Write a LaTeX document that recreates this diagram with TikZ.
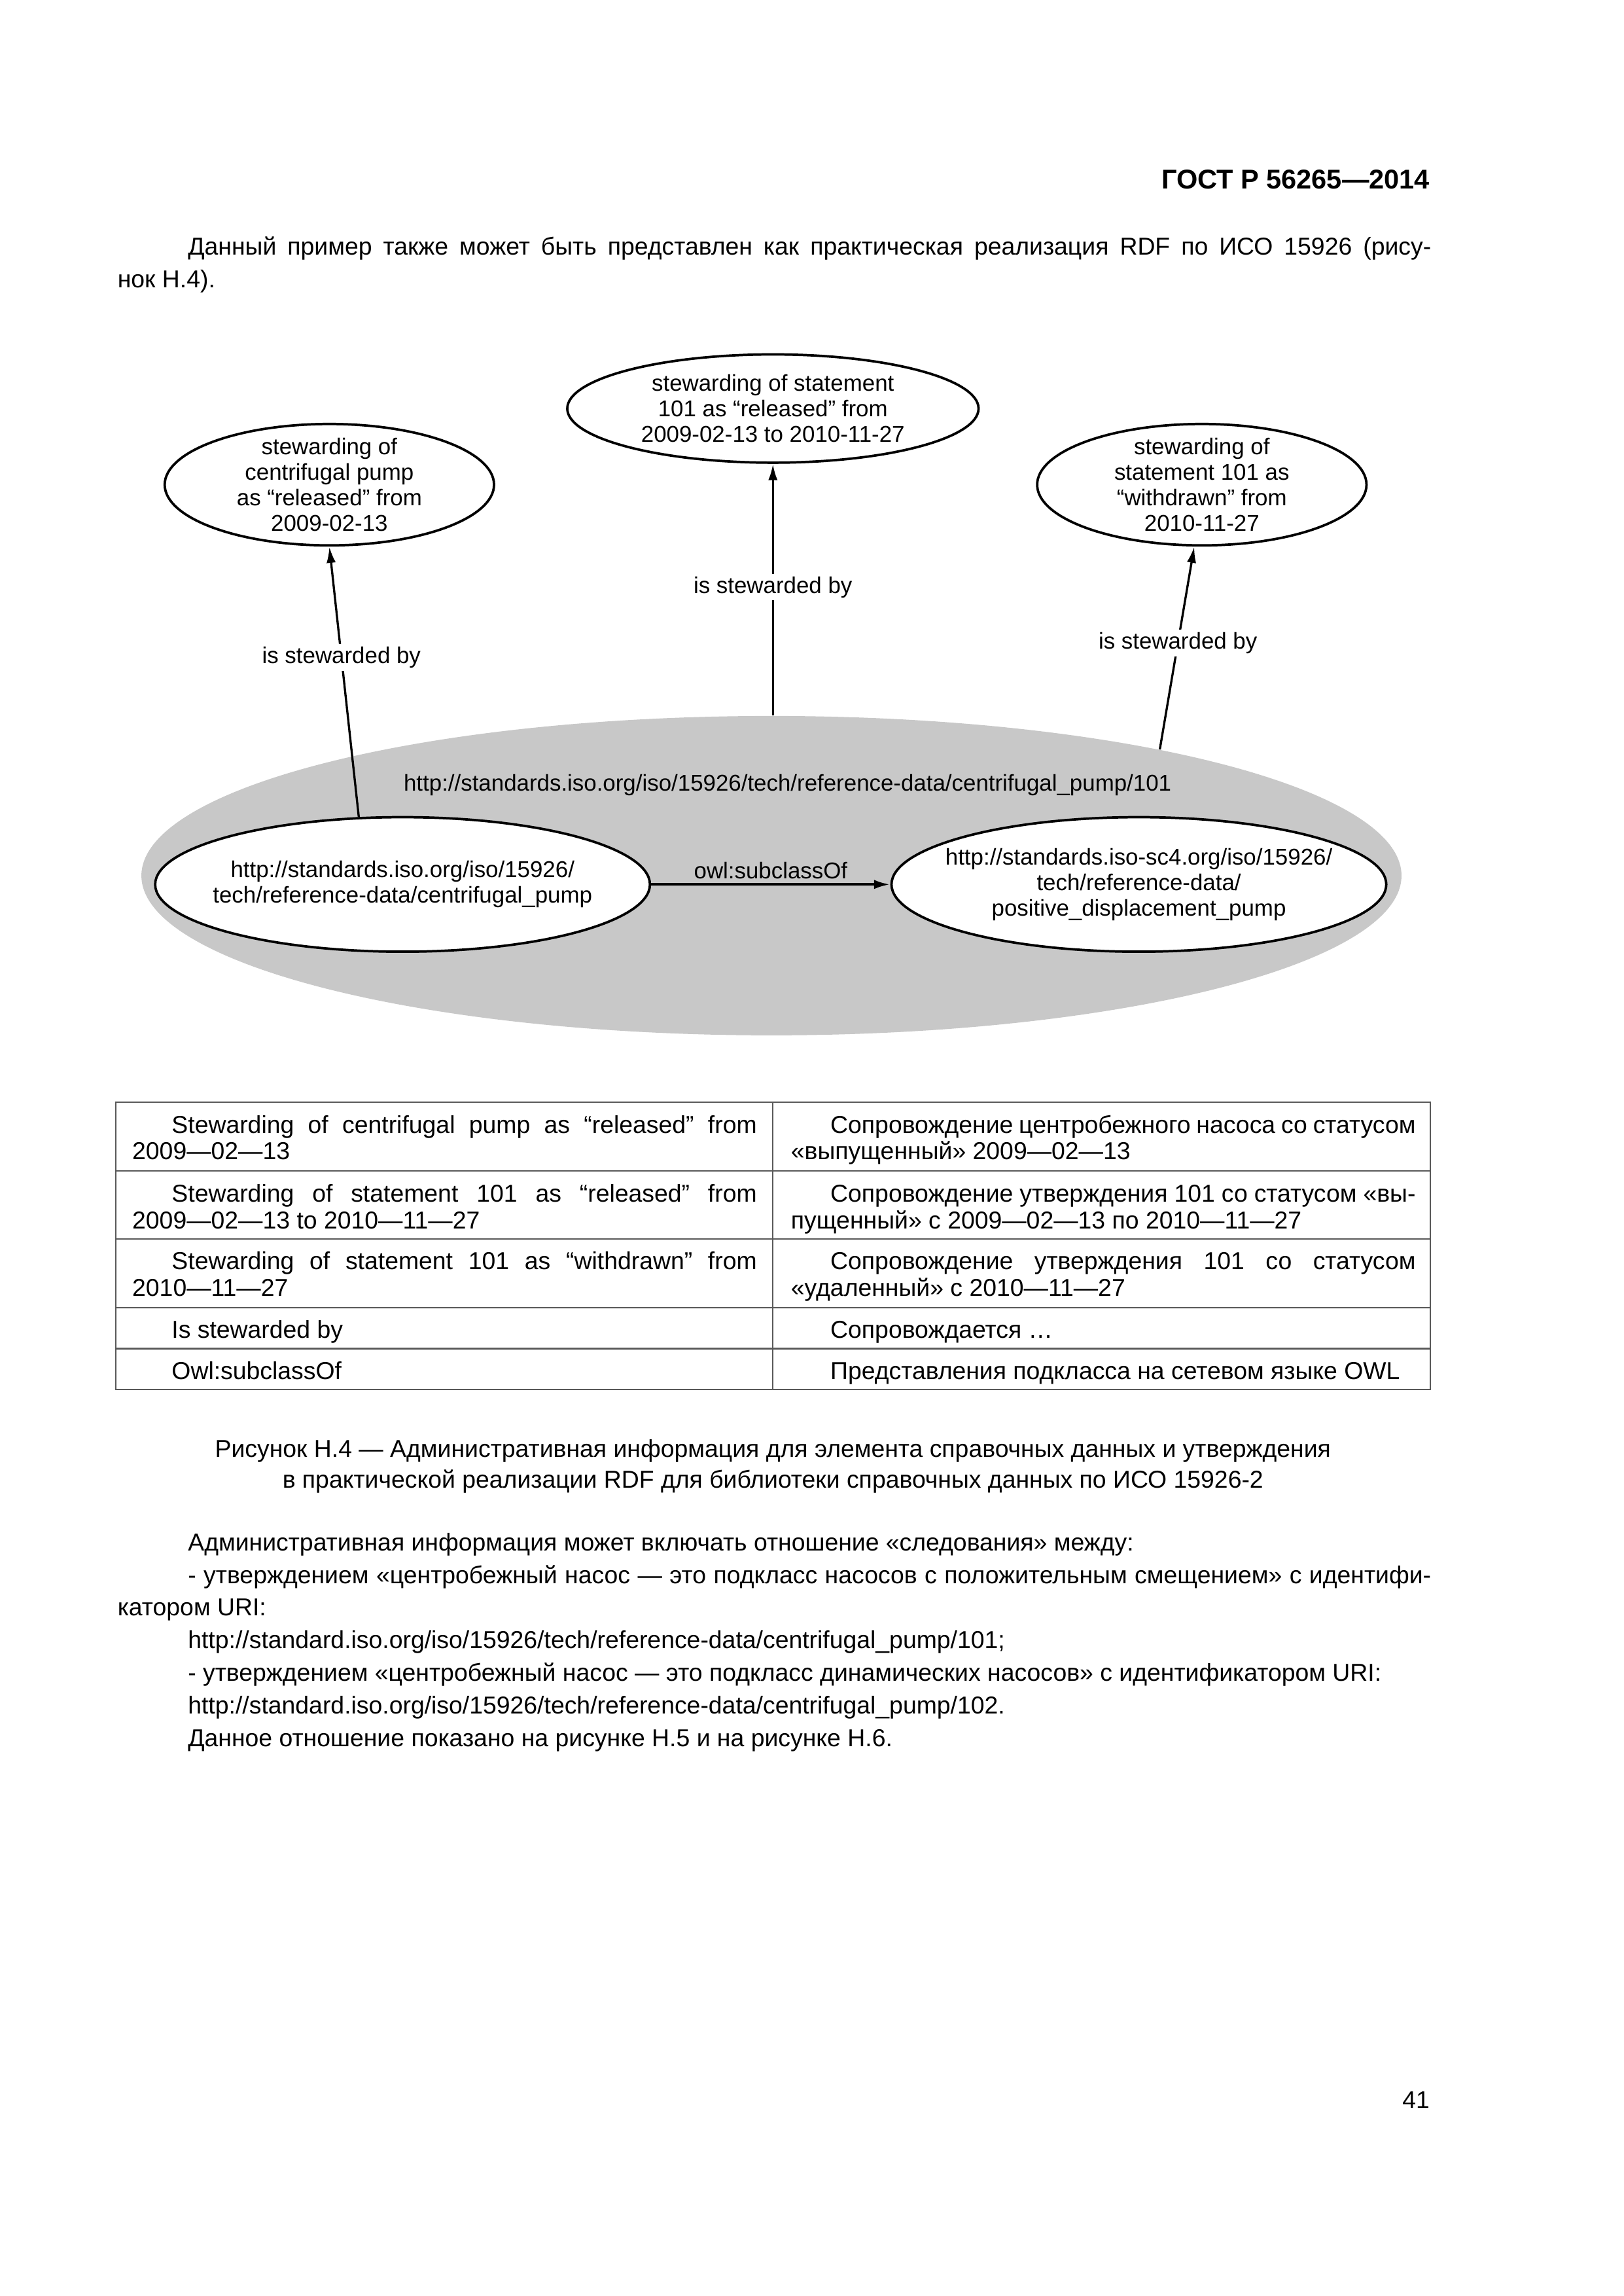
\documentclass[tikz,border=0pt]{standalone}
\usepackage{fontspec}
\setmainfont{Liberation Sans}
\usetikzlibrary{positioning, shapes.geometric, arrows.meta}
\definecolor{uriGrey}{RGB}{200,200,200}
\hyphenpenalty=10000

\begin{document}
\begin{tikzpicture}[
    x=0.18936mm, y=-0.18936mm,
    >={Latex[length=2.1mm, width=1.2mm]},
    font=\fontsize{9}{12}\selectfont,
    stew/.style={ellipse, draw, line width=0.9pt, align=center, inner xsep=0pt, inner ysep=-1mm, font=\fontsize{8.4}{9.4}\selectfont},
    uri/.style={ellipse, draw, line width=0.9pt, fill=white, align=center, inner xsep=-3mm, inner ysep=0pt, minimum width=64mm, minimum height=17.4mm, font=\fontsize{8.4}{9.4}\selectfont},
    rel/.style={fill=white, inner sep=1pt, font=\fontsize{8.4}{9.4}\selectfont},
    arr/.style={->, line width=0.8pt},
    para/.style={anchor=base west, inner sep=0pt, text width=169.9mm, align=justify},
    cell/.style={anchor=base west, inner sep=0pt, text width=80.8mm, align=justify, font=\fontsize{9}{9.7}\selectfont},
    grid/.style={line width=0.5pt, black!65}
]
    \useasboundingbox (0,0) rectangle (1109,1568);

    \node[anchor=base east, inner sep=0pt, font=\fontsize{10}{12}\selectfont\bfseries] (gostHead) at (977,129) {ГОСТ Р 56265—2014};
    \node[para] (introPara) at (80,174) {\hspace*{9.1mm}Данный пример также может быть представлен как практическая реализация RDF по ИСО 15926 (рису-\linebreak нок Н.4).};

    \node[stew, minimum width=53.2mm, minimum height=14mm] (stewStmtRel) at (528,279) {stewarding of statement\\101 as “released” from\\2009-02-13 to 2010-11-27};
    \node[stew, minimum width=42.6mm, minimum height=15.7mm] (stewPump) at (225,331) {stewarding of\\centrifugal pump\\as “released” from\\2009-02-13};
    \node[stew, minimum width=42.6mm, minimum height=15.7mm] (stewStmtWd) at (821,331) {stewarding of\\statement 101 as\\“withdrawn” from\\2010-11-27};

    \node[ellipse, fill=uriGrey, minimum width=163mm, minimum height=41.3mm] (stmt101) at (527,598) {};
    \node[font=\fontsize{8.4}{9.4}\selectfont] (stmt101Uri) at (538,536) {http://standards.iso.org/iso/15926/tech/reference-data/centrifugal\_pump/101};
    \node[uri] (pumpUri) at (275,604) {http://standards.iso.org/iso/15926/\\tech/reference-data/centrifugal\_pump};
    \node[uri] (pdPumpUri) at (778,604) {http://standards.iso-sc4.org/iso/15926/\\tech/reference-data/\\positive\_displacement\_pump};
    \draw[->, line width=1pt] (pumpUri) -- node[above, inner sep=1.5pt, font=\fontsize{8.4}{9.4}\selectfont] (subclassLbl) {owl:subclassOf} (pdPumpUri);

    \draw[arr] (pumpUri.123) -- node[rel, pos=0.59] (lblPump) {is stewarded by} (stewPump.south);
    \draw[arr] (stewStmtRel.south |- stmt101.north) -- node[rel, pos=0.51] (lblStmtRel) {is stewarded by} (stewStmtRel.south);
    \draw[arr] (stmt101.18) -- node[rel, pos=0.525] (lblStmtWd) {is stewarded by} (stewStmtWd.-97);

    \draw[grid] (79,752.7) rectangle (977,949);
    \draw[grid] (79,799.6) -- (977,799.6) (79,846) -- (977,846) (79,893) -- (977,893) (79,921) -- (977,921);
    \draw[grid] (528,752.7) -- (528,949);

    \node[cell] (enRelPump) at (90,774) {\hspace*{5.1mm}Stewarding of centrifugal pump as “released” from\linebreak 2009—02—13};
    \node[cell] (ruRelPump) at (540,774) {\hspace*{5.1mm}Сопровождение центробежного насоса со статусом\linebreak «выпущенный» 2009—02—13};
    \node[cell] (enRelStmt) at (90,821) {\hspace*{5.1mm}Stewarding of statement 101 as “released” from\linebreak 2009—02—13 to 2010—11—27};
    \node[cell] (ruRelStmt) at (540,821) {\hspace*{5.1mm}Сопровождение утверждения 101 со статусом «вы-\linebreak пущенный» с 2009—02—13 по 2010—11—27};
    \node[cell] (enWdStmt) at (90,867) {\hspace*{5.1mm}Stewarding of statement 101 as “withdrawn” from\linebreak 2010—11—27};
    \node[cell] (ruWdStmt) at (540,867) {\hspace*{5.1mm}Сопровождение утверждения 101 со статусом\linebreak «удаленный» с 2010—11—27};
    \node[cell] (enStew) at (90,914) {\hspace*{5.1mm}Is stewarded by};
    \node[cell] (ruStew) at (540,914) {\hspace*{5.1mm}Сопровождается …};
    \node[cell] (enOwl) at (90,942) {\hspace*{5.1mm}Owl:subclassOf};
    \node[cell] (ruOwl) at (540,942) {\hspace*{5.1mm}Представления подкласса на сетевом языке OWL};

    \node[anchor=base, align=center, inner sep=0pt, font=\fontsize{9}{11.3}\selectfont] (figCaption) at (528,1016) {Рисунок Н.4 — Административная информация для элемента справочных данных и утверждения\\в практической реализации RDF для библиотеки справочных данных по ИСО 15926-2};

    \node[para] (adminPara) at (80,1059) {\hspace*{9.1mm}Административная информация может включать отношение «следования» между:\par
        \hspace*{9.1mm}- утверждением «центробежный насос — это подкласс насосов с положительным смещением» с идентифи-\linebreak катором URI:\par
        \hspace*{9.1mm}http://standard.iso.org/iso/15926/tech/reference-data/centrifugal\_pump/101;\par
        \hspace*{9.1mm}- утверждением «центробежный насос — это подкласс динамических насосов» с идентификатором URI:\par
        \hspace*{9.1mm}http://standard.iso.org/iso/15926/tech/reference-data/centrifugal\_pump/102.\par
        \hspace*{9.1mm}Данное отношение показано на рисунке Н.5 и на рисунке Н.6.};

    \node[anchor=base east, inner sep=0pt] (pageNum) at (977,1440) {41};
\end{tikzpicture}
\end{document}
